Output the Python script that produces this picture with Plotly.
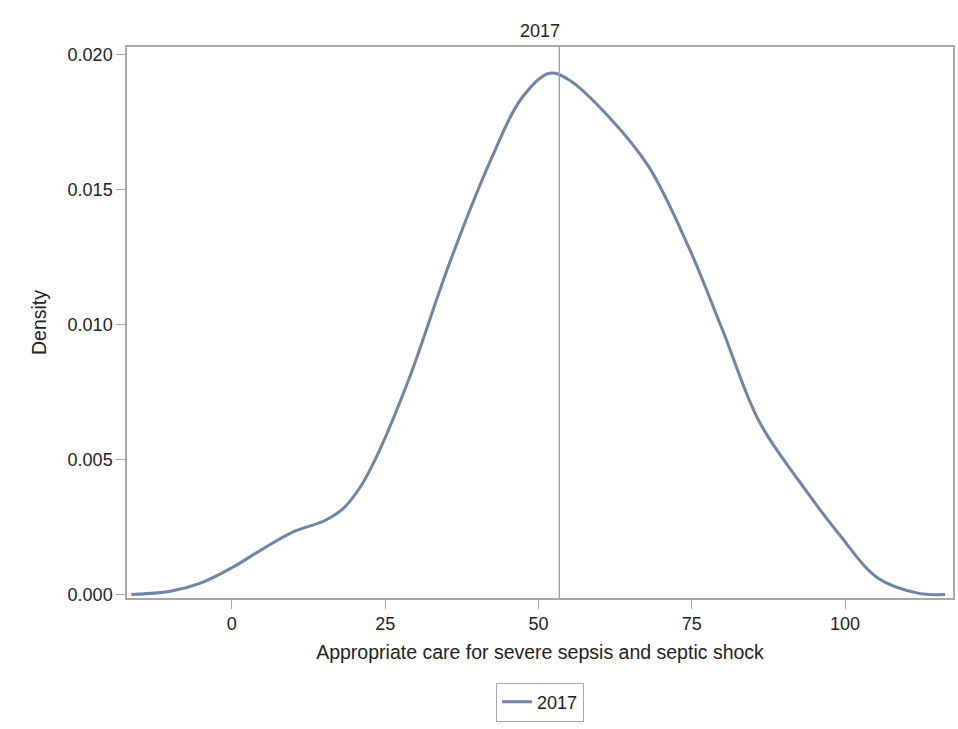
import plotly.graph_objects as go

x_vals = [-16.4, -10.0, -5.0, 0.0, 5.0, 10.0, 15.0, 18.0, 21.0, 24.0, 29.0, 35.5, 42.0, 47.4, 51.8, 55.0,
          61.5, 68.0, 74.5, 80.0, 86.0, 92.4, 98.9, 105.4, 111.9, 116.3]
density = [0.0, 0.00012, 0.00043, 0.00099, 0.00168, 0.00232, 0.00272, 0.00315, 0.0040, 0.0053, 0.00805,
           0.01227, 0.01597, 0.01842, 0.0193, 0.01905, 0.01768, 0.01583, 0.01286, 0.0098, 0.0064, 0.00423,
           0.00227, 0.0006, 0.00005, 0.0]
ref_x = 53.4
year = "2017"
x_ticks = [0, 25, 50, 75, 100]
y_ticks = [0.0, 0.005, 0.010, 0.015, 0.020]
y_tick_text = ["0.000", "0.005", "0.010", "0.015", "0.020"]

axis_color = "#a8a8a8"
fam = "Liberation Sans, Arial, sans-serif"
txt = "#222222"

fig = go.Figure()
fig.add_trace(go.Scatter(x=x_vals, y=density, mode="lines", name=year,
                         line=dict(color="#6f84a8", width=3, shape="spline", smoothing=1.0)))
fig.add_vline(x=ref_x, line=dict(color="#a0a0a0", width=1.3))

fig.update_layout(
    width=958, height=729,
    margin=dict(l=127, r=3, t=47, b=131),
    paper_bgcolor="white", plot_bgcolor="white",
    font=dict(family=fam, size=18, color=txt),
    title=dict(text=year, x=0.5, xref="paper", xanchor="center", y=1 - 31/729, yanchor="middle",
               font=dict(size=18, family=fam, color=txt)),
    showlegend=True,
    legend=dict(orientation="h", x=0.5, xanchor="center", y=-0.189, yanchor="middle",
                bordercolor=axis_color, borderwidth=1, font=dict(size=18)),
    xaxis=dict(range=[-17.1, 117.6], tickvals=x_ticks, ticks="outside", ticklen=9, tickcolor=axis_color,
               showline=True, linecolor=axis_color, linewidth=1.5, mirror=True, showgrid=False, zeroline=False,
               title=dict(text="Appropriate care for severe sepsis and septic shock", standoff=12,
                          font=dict(size=19.5)),
               tickfont=dict(size=18)),
    yaxis=dict(range=[-0.00013, 0.02027], tickvals=y_ticks, ticktext=y_tick_text, ticks="outside", ticklen=9,
               tickcolor=axis_color, showline=True, linecolor=axis_color, linewidth=1.5, mirror=True,
               showgrid=False, zeroline=False,
               title=dict(text="Density", standoff=16, font=dict(size=19.5)), tickfont=dict(size=18)),
)

post = ("document.body.style.margin='0';document.body.style.overflow='hidden';"
        "var gd=document.getElementById('{plot_id}');Plotly.relayout(gd,{width:958,height:729});")
fig.write_html("out.html", post_script=post, config={"displayModeBar": False})
